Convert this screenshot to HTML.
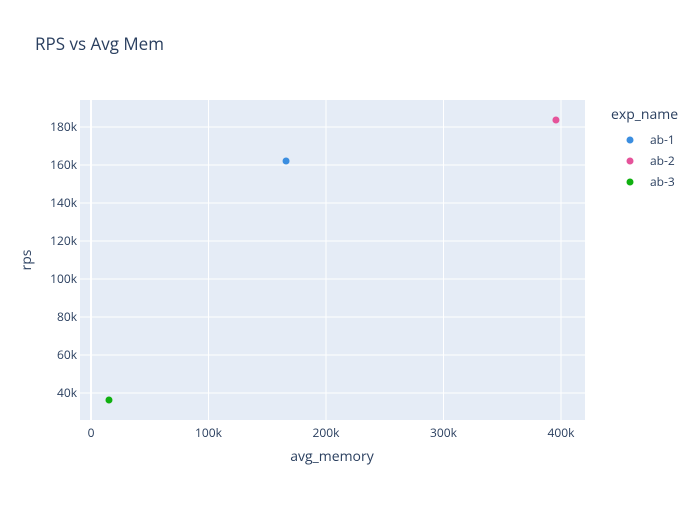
<!DOCTYPE html>
<html><head><meta charset="utf-8"><style>
body{margin:0;background:#fff;font-family:"Open Sans","Liberation Sans",sans-serif;}
svg text{font-family:"Open Sans","Liberation Sans",sans-serif;}
</style></head><body>
<svg id="chart" width="700" height="500">
<text x="35" y="50" font-size="17" fill="#2a3f5f">RPS vs Avg Mem</text>
<rect x="80" y="100" width="505" height="320" fill="#e5ecf6"/>
<g id="grid"></g><g id="ticks"></g><g id="points"></g>
<text x="332" y="461" font-size="14" fill="#2a3f5f" text-anchor="middle">avg_memory</text>
<text transform="translate(31,260) rotate(-90)" font-size="14" fill="#2a3f5f" text-anchor="middle">rps</text>
<text x="611" y="119" font-size="14" fill="#2a3f5f">exp_name</text>
<g id="legend"></g>
</svg>
<script>
const names=["ab-1","ab-2","ab-3"];
const colors=["#3b8ee0","#e5539a","#10b010"];
const memValues=[166000,395700,15300];
const rpsValues=[162100,183700,36300];
const xTicks=[0,100000,200000,300000,400000];
const xTickLabels=["0","100k","200k","300k","400k"];
const yTicks=[40000,60000,80000,100000,120000,140000,160000,180000];
const yTickLabels=["40k","60k","80k","100k","120k","140k","160k","180k"];
const NS="http://www.w3.org/2000/svg";
const X=v=>91+v*117.5/100000;
const Y=v=>127+(180000-v)*1.9/1000;
function mk(tag,attrs,parent,text){const e=document.createElementNS(NS,tag);for(const k in attrs)e.setAttribute(k,attrs[k]);if(text!==undefined)e.textContent=text;document.getElementById(parent).appendChild(e);return e;}
xTicks.forEach((t,i)=>{
 const g=mk('line',{x1:X(t),x2:X(t),y1:100,y2:420,stroke:'#fff','stroke-width':t===0?2:1},'grid');
 
 
 const l=mk('text',{x:X(t),y:437,'font-size':12,fill:'#2a3f5f','text-anchor':'middle'},'ticks',xTickLabels[i]);
 
 
});
yTicks.forEach((t,i)=>{
 const g=mk('line',{x1:80,x2:585,y1:Y(t),y2:Y(t),stroke:'#fff','stroke-width':1},'grid');
 
 
 const l=mk('text',{x:79-2,y:Y(t)+4,'font-size':12,fill:'#2a3f5f','text-anchor':'end'},'ticks',yTickLabels[i]);
 
 
});
names.forEach((n,i)=>{
 const c=mk('circle',{cx:X(memValues[i]),cy:Y(rpsValues[i]),r:3.5,fill:colors[i]},'points');
 
 
 const ly=140+i*21;
 const m=mk('circle',{cx:630,cy:ly,r:3.5,fill:colors[i]},'legend');
 
 
 const t=mk('text',{x:650,y:ly+4,'font-size':12,fill:'#2a3f5f'},'legend',n);
 
 
});
</script>
</body></html>
